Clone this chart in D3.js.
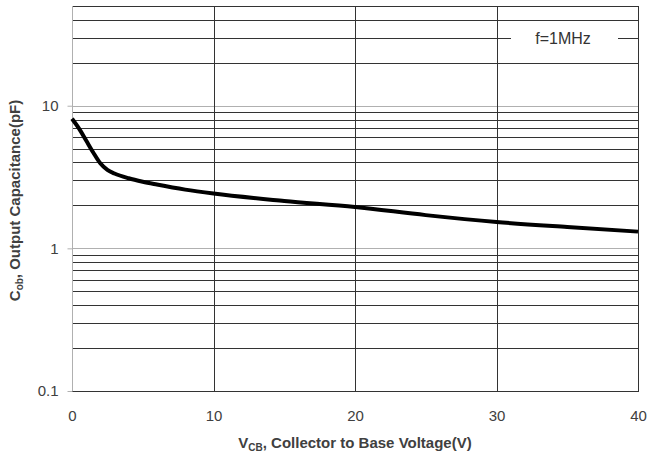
<!DOCTYPE html>
<html>
<head>
<meta charset="utf-8">
<script src="https://cdn.jsdelivr.net/npm/d3@7"></script>
<style>
  body { margin: 0; background: #fff; }
  svg { display: block; font-family: "Liberation Sans", Arial, sans-serif; }
</style>
</head>
<body>
<svg id="chart" width="649" height="456"></svg>
<script>
// Data
const vcb = [0, 0.5, 1, 1.5, 2, 2.5, 3, 4, 5, 6, 8, 10, 15, 20, 25, 30, 35, 40];
const cob = [8.1, 6.9, 5.7, 4.7, 3.95, 3.55, 3.35, 3.1, 2.93, 2.8, 2.58, 2.42, 2.15, 1.95, 1.71, 1.53, 1.41, 1.31];
const xTicks = [0, 10, 20, 30, 40];
const yTicks = [0.1, 1, 10];
const yMinor = [0.2, 0.3, 0.4, 0.5, 0.6, 0.7, 0.8, 0.9, 2, 3, 4, 5, 6, 7, 8, 9, 20, 30, 40, 50];
const noteText = "f=1MHz";

const svg = d3.select("#chart");
const L = 72, R = 638, T = 6, B = 391;
const x = d3.scaleLinear().domain([0, 40]).range([L, R]);
const y = d3.scaleLog().domain([0.1, 50]).range([B, T]);

const dark = "#333";
const grey = "#b0b0b0";
const font = "Liberation Sans, Arial, sans-serif";

// minor (black) horizontal gridlines
svg.append("g").selectAll("line").data(yMinor).join("line")
  .attr("x1", L).attr("x2", R)
  .attr("y1", d => Math.round(y(d)) + 0.5).attr("y2", d => Math.round(y(d)) + 0.5)
  .attr("stroke", dark).attr("stroke-width", 1);

// major (grey) horizontal gridlines at 1 and 10
svg.append("g").selectAll("line").data(yTicks.filter(d => d > 0.1)).join("line")
  .attr("x1", L).attr("x2", R)
  .attr("y1", d => Math.round(y(d)) + 0.5).attr("y2", d => Math.round(y(d)) + 0.5)
  .attr("stroke", grey).attr("stroke-width", 1);

// vertical gridlines
svg.append("g").selectAll("line").data(xTicks.filter(d => d > 0)).join("line")
  .attr("x1", d => Math.round(x(d)) + 0.5).attr("x2", d => Math.round(x(d)) + 0.5)
  .attr("y1", T).attr("y2", B)
  .attr("stroke", dark).attr("stroke-width", 1);

// bottom line
svg.append("line")
  .attr("x1", L).attr("x2", R + 1)
  .attr("y1", Math.round(y(0.1)) + 0.5).attr("y2", Math.round(y(0.1)) + 0.5)
  .attr("stroke", dark);

// y axis
const yAxis = d3.axisLeft(y).tickValues(yTicks).tickFormat(d3.format("~g")).tickSize(5).tickPadding(9);
const ya = svg.append("g").attr("transform", `translate(${L + 0.5},0)`).call(yAxis);
ya.select(".domain").attr("stroke", grey).attr("d", `M0,${T}V${B}`);
ya.selectAll(".tick line").attr("stroke", grey);
ya.selectAll(".tick text").attr("font-size", 15).attr("fill", "#404040").attr("font-family", font);

// x axis labels
const xAxis = d3.axisBottom(x).tickValues(xTicks).tickSize(0).tickPadding(19);
const xa = svg.append("g").attr("transform", `translate(0,${B})`).call(xAxis);
xa.select(".domain").remove();
xa.selectAll(".tick text").attr("font-size", 15).attr("fill", "#404040").attr("font-family", font);

// note box
const nx = 563, ny = 38;
svg.append("rect").attr("x", nx - 52).attr("y", ny - 13).attr("width", 107).attr("height", 26).attr("fill", "#fff");
svg.append("text").attr("x", nx).attr("y", ny + 5.5).attr("text-anchor", "middle")
  .attr("font-size", 16).attr("fill", "#333").text(noteText);

// curve
const line = d3.line().x((d, i) => x(vcb[i])).y(d => y(d)).curve(d3.curveMonotoneX);
svg.append("path").datum(cob).attr("d", line)
  .attr("fill", "none").attr("stroke", "#000").attr("stroke-width", 4)
  .attr("stroke-linejoin", "round");

// axis titles
const xt = svg.append("text").attr("x", (L + R) / 2).attr("y", 448).attr("text-anchor", "middle")
  .attr("font-size", 15).attr("font-weight", "bold").attr("fill", "#404040");
xt.append("tspan").text("V");
xt.append("tspan").attr("font-size", 10).attr("dy", 3).text("CB");
xt.append("tspan").attr("dy", -3).text(", Collector to Base Voltage(V)");

const yt = svg.append("text").attr("transform", `translate(20,${(T + B) / 2 + 2}) rotate(-90)`)
  .attr("text-anchor", "middle").attr("font-size", 15).attr("font-weight", "bold").attr("fill", "#404040");
yt.append("tspan").text("C");
yt.append("tspan").attr("font-size", 10).attr("dy", 3).text("ob");
yt.append("tspan").attr("dy", -3).text(", Output Capacitance(pF)");
</script>
</body>
</html>
